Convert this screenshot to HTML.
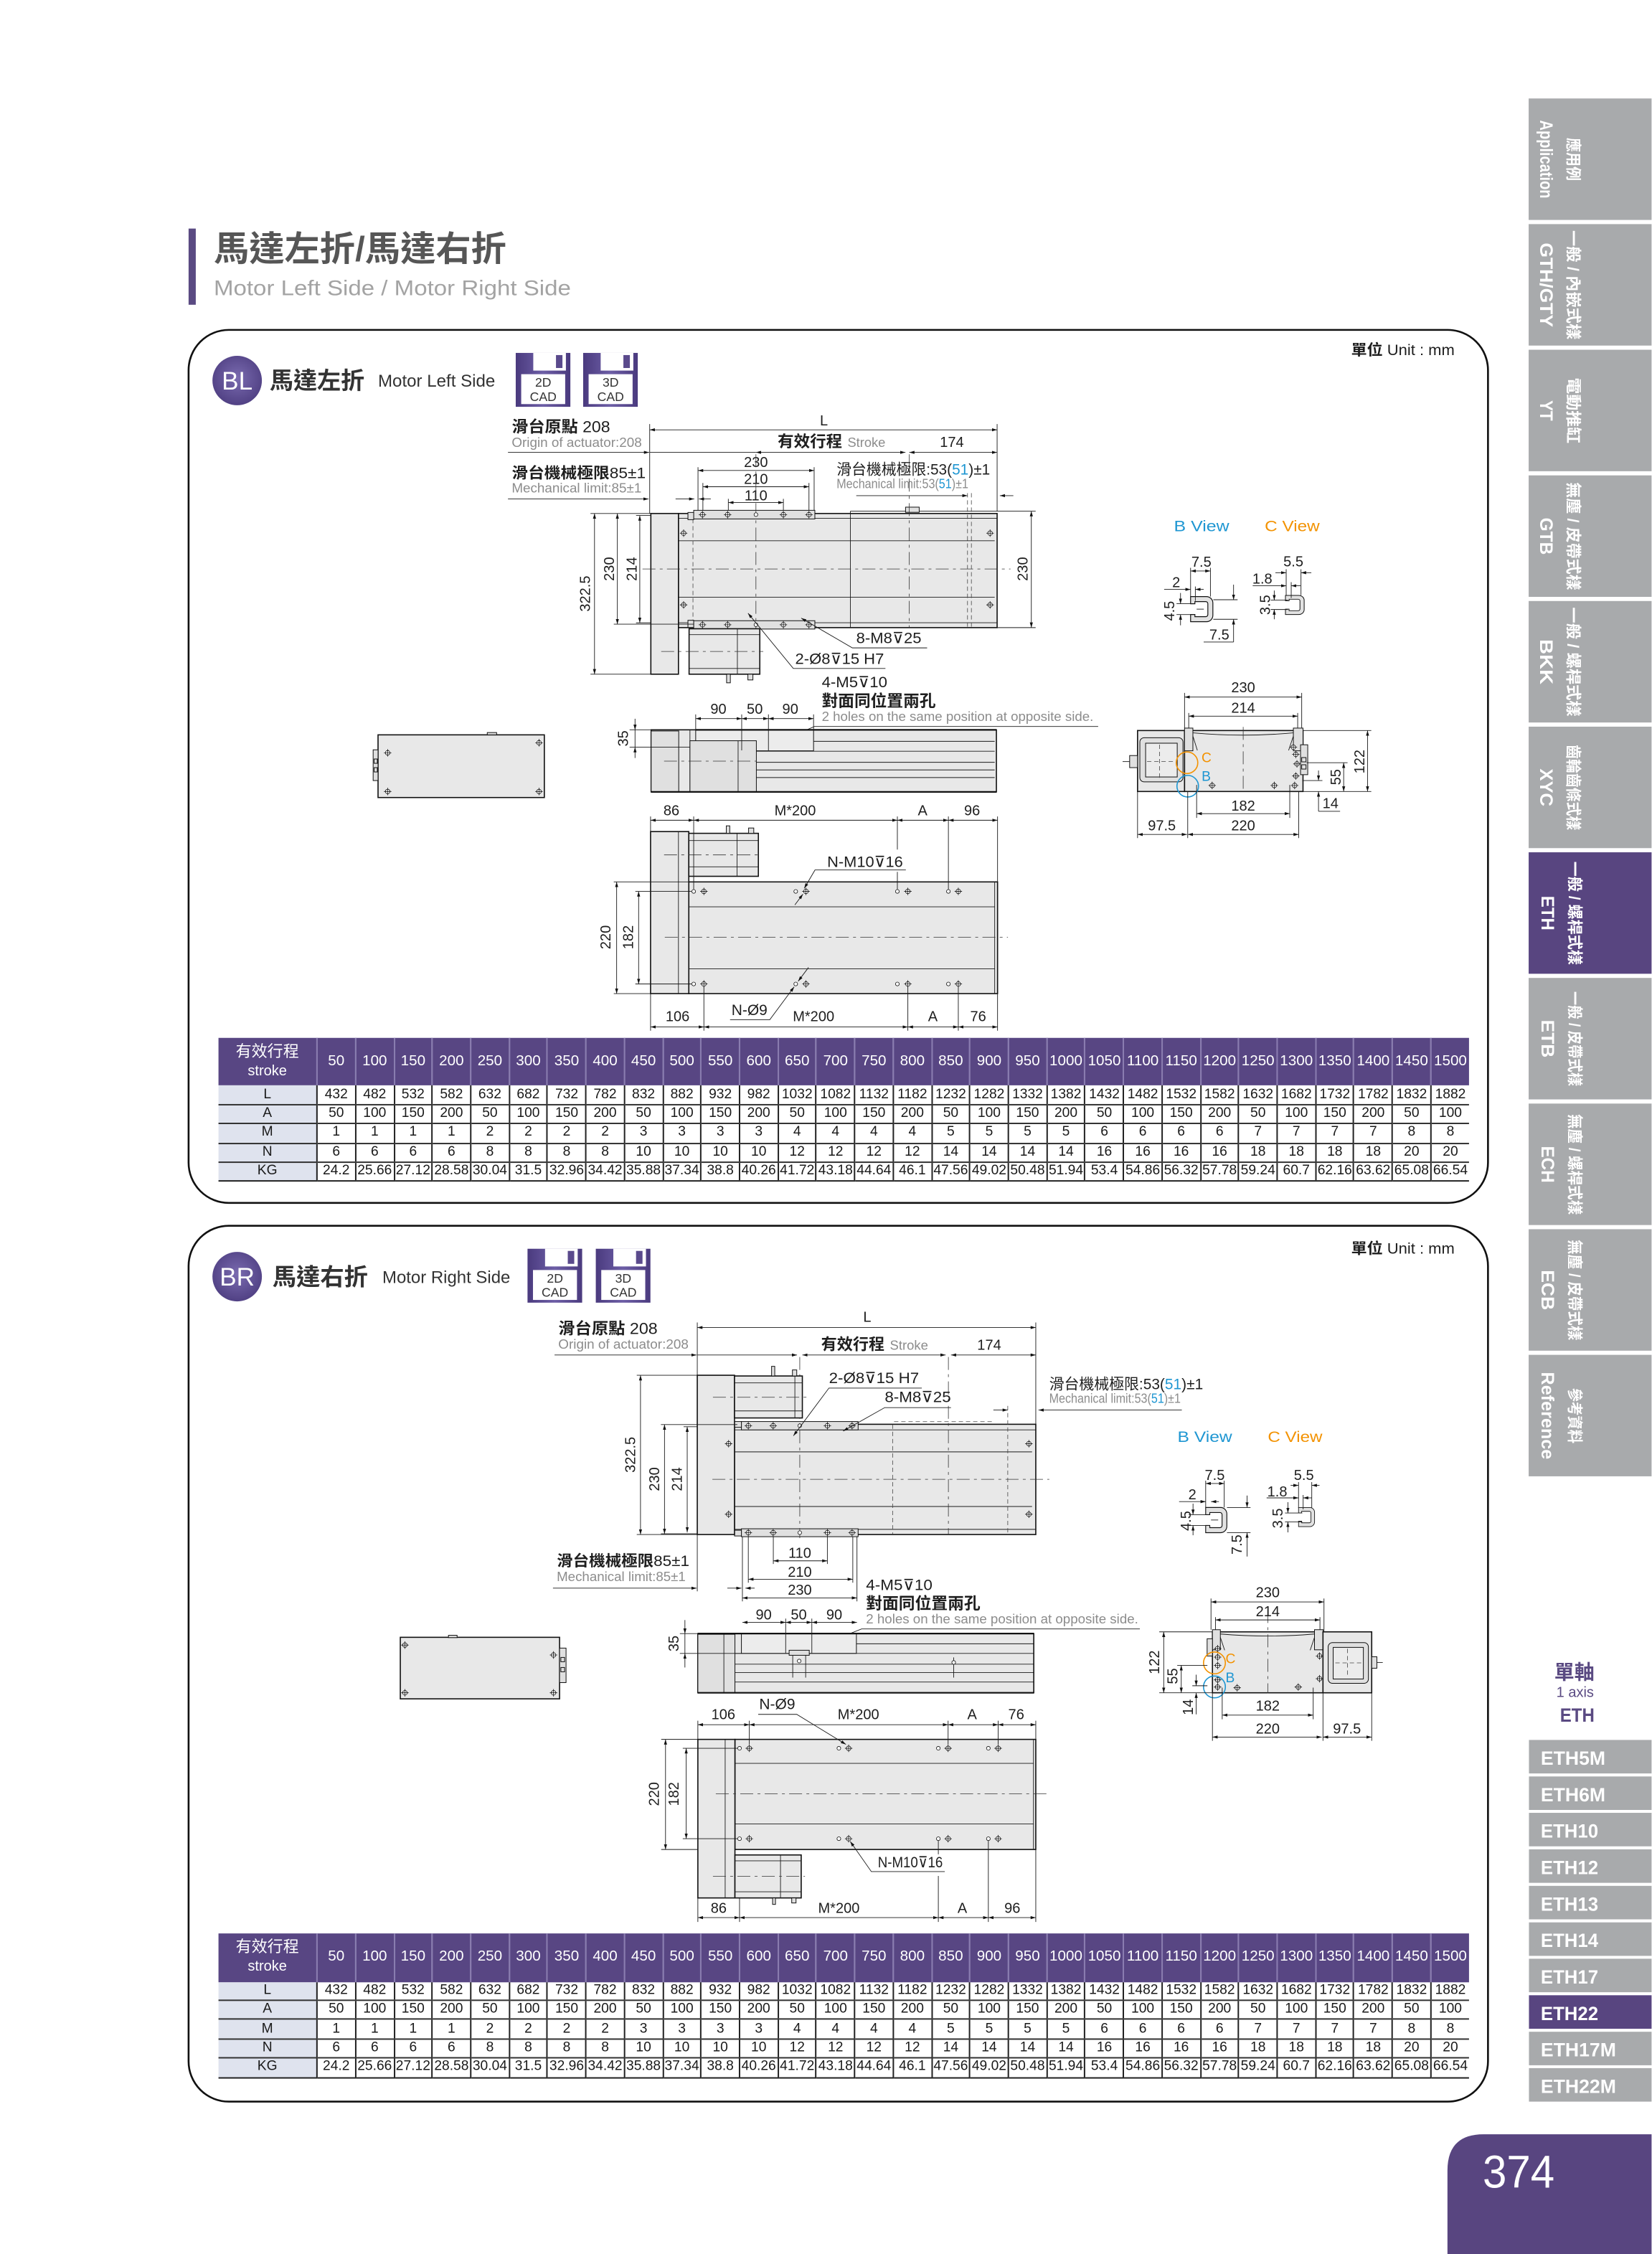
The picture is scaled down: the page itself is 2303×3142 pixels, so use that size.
<!DOCTYPE html>
<html><head><meta charset="utf-8">
<style>
html,body{margin:0;padding:0;width:2303px;height:3142px;overflow:hidden;background:#fff}
#pg{position:absolute;left:0;top:0;width:1149.3px;height:1568px;transform:scale(2.003828);transform-origin:0 0}
#pg svg{position:absolute;left:0;top:0}
.tb{position:absolute;left:151.9px;width:870.3px;border-collapse:collapse;table-layout:fixed;font-family:"Liberation Sans","Noto Sans CJK TC",sans-serif;color:#1a1a1a}
.tb td,.tb th{padding:0;text-align:center;white-space:nowrap;overflow:visible;font-weight:normal}
.tb tr.h th{height:33.6px;background:#584683;color:#fff;font-size:10.3px;border-left:.5px solid #8a7db0}
.tb tr.h th:first-child{font-size:11px;line-height:13px;border-left:none}
.tb tr.h th span{font-size:10px}
.tb tr.r td,.tb tr.r th{height:12.4px;font-size:9.6px;line-height:12px;border-bottom:.6px solid #333}
.tb tr.r td{border-left:.5px solid #222}
.tb tr.r th{background:#dfe3ee}
.tb tr.r:last-child td,.tb tr.r:last-child th{border-bottom:1.3px solid #222}
</style></head><body><div id="pg">
<svg xmlns="http://www.w3.org/2000/svg" width="1149.3" height="1568" viewBox="0 0 1149.3 1568" font-size="10">
<defs>
<marker id="ar" viewBox="0 0 10 6" refX="10" refY="3" markerUnits="userSpaceOnUse" markerWidth="3.6" markerHeight="2.2" orient="auto-start-reverse"><path d="M0,0L10,3L0,6z" fill="#111"/></marker>
<g id="h"><circle r="1.6" fill="#fff" stroke="#111" stroke-width=".4"/><path d="M-2.6,0H2.6M0,-2.6V2.6" stroke="#111" stroke-width=".4"/></g>
<g id="o"><circle r="1.3" fill="#fff" stroke="#111" stroke-width=".4"/></g>
<path id="u" d="M0,0H11A4.5,4.5 0 0 1 15.5,4.5V13A4.5,4.5 0 0 1 11,17.5H0V12.5H3V14H10.5A1.5,1.5 0 0 0 12,12.5V5A1.5,1.5 0 0 0 10.5,3.5H3V5H0Z" fill="#e2e2e2" stroke="#111" stroke-width=".6"/>
<radialGradient id="cg" cx=".5" cy=".45" r=".6"><stop offset="0" stop-color="#7a6bb0"/><stop offset="1" stop-color="#4d3d80"/></radialGradient>
<linearGradient id="ig" x1="0" x2="1"><stop offset="0" stop-color="#4a3a7e"/><stop offset=".5" stop-color="#6d5ea6"/><stop offset="1" stop-color="#4a3a7e"/></linearGradient>
</defs>
<style>
text{font-family:"Liberation Sans","Noto Sans CJK TC","DejaVu Sans",sans-serif;fill:#1e1e1e}
.m{text-anchor:middle}
.b{font-weight:bold}
.g{fill:#8c8c8c;font-size:9px}
.cb{fill:#1e96d2}
.co{fill:#f39200}
.ln{stroke:#1a1a1a;stroke-width:.45;fill:none}
.dm{stroke:#1a1a1a;stroke-width:.45;fill:none;marker-start:url(#ar);marker-end:url(#ar)}
.de{stroke:#1a1a1a;stroke-width:.45;fill:none;marker-end:url(#ar)}
.cl{stroke:#333;stroke-width:.4;fill:none;stroke-dasharray:9 3 2 3}
.hd{stroke:#444;stroke-width:.4;fill:none;stroke-dasharray:3 2}
.bd{fill:#e8e8e8;stroke:#111;stroke-width:.8}
.pt{fill:#e0e0e0;stroke:#111;stroke-width:.5}
.sb{font-size:12.5px;font-weight:bold;fill:#fff;text-anchor:middle;dominant-baseline:central}
.sz{font-size:11px;font-weight:bold;fill:#fff;text-anchor:middle;dominant-baseline:central}
.bt{font-size:13.5px;font-weight:bold;fill:#fff}
</style>

<!-- ===== Title ===== -->
<rect x="131.2" y="159" width="5" height="53" fill="#5a4a82"/>
<text x="148.7" y="181.5" style="font-size:24px;font-weight:bold;fill:#565656" textLength="203.6" lengthAdjust="spacingAndGlyphs">馬達左折/馬達右折</text>
<text x="148.7" y="205.4" style="font-size:15px;fill:#a3a3a3" textLength="248.5" lengthAdjust="spacingAndGlyphs">Motor Left Side / Motor Right Side</text>

<!-- ===== Panels ===== -->
<rect x="131.2" y="229.5" width="904" height="607.3" rx="28" fill="#fff" stroke="#111" stroke-width="1.3"/>
<rect x="131.2" y="852.7" width="904" height="609.3" rx="28" fill="#fff" stroke="#111" stroke-width="1.3"/>

<!-- ===== Sidebar tabs ===== -->
<rect x="1063.5" y="68.5" width="85.8" height="84.5" fill="#a8aaac"/>
<rect x="1063.5" y="155.9" width="85.8" height="84.5" fill="#a8aaac"/>
<rect x="1063.5" y="243.3" width="85.8" height="84.5" fill="#a8aaac"/>
<rect x="1063.5" y="330.7" width="85.8" height="84.5" fill="#a8aaac"/>
<rect x="1063.5" y="418.1" width="85.8" height="84.5" fill="#a8aaac"/>
<rect x="1063.5" y="505.5" width="85.8" height="84.5" fill="#a8aaac"/>
<rect x="1063.5" y="592.9" width="85.8" height="84.5" fill="#584580"/>
<rect x="1063.5" y="680.3" width="85.8" height="84.5" fill="#a8aaac"/>
<rect x="1063.5" y="767.7" width="85.8" height="84.5" fill="#a8aaac"/>
<rect x="1063.5" y="855.1" width="85.8" height="84.5" fill="#a8aaac"/>
<rect x="1063.5" y="942.5" width="85.8" height="84.5" fill="#a8aaac"/>
<text class="sb" transform="translate(1075.5,110.8) rotate(90)" textLength="54.4" lengthAdjust="spacingAndGlyphs">Application</text>
<text class="sz" transform="translate(1094.5,110.8) rotate(90)" textLength="30" lengthAdjust="spacingAndGlyphs">應用例</text>
<text class="sb" transform="translate(1075.5,198.2) rotate(90)" textLength="58.7" lengthAdjust="spacingAndGlyphs">GTH/GTY</text>
<text class="sz" transform="translate(1094.5,198.2) rotate(90)" textLength="76" lengthAdjust="spacingAndGlyphs">一般 / 內嵌式樣</text>
<text class="sb" transform="translate(1075.5,285.6) rotate(90)" textLength="14.3" lengthAdjust="spacingAndGlyphs">YT</text>
<text class="sz" transform="translate(1094.5,285.6) rotate(90)" textLength="45.8" lengthAdjust="spacingAndGlyphs">電動推缸</text>
<text class="sb" transform="translate(1075.5,373) rotate(90)" textLength="25.8" lengthAdjust="spacingAndGlyphs">GTB</text>
<text class="sz" transform="translate(1094.5,373) rotate(90)" textLength="75" lengthAdjust="spacingAndGlyphs">無塵 / 皮帶式樣</text>
<text class="sb" transform="translate(1075.5,460.4) rotate(90)" textLength="31.5" lengthAdjust="spacingAndGlyphs">BKK</text>
<text class="sz" transform="translate(1094.5,460.4) rotate(90)" textLength="76" lengthAdjust="spacingAndGlyphs">一般 / 螺桿式樣</text>
<text class="sb" transform="translate(1075.5,547.8) rotate(90)" textLength="26.3" lengthAdjust="spacingAndGlyphs">XYC</text>
<text class="sz" transform="translate(1094.5,547.8) rotate(90)" textLength="59.5" lengthAdjust="spacingAndGlyphs">齒輪齒條式樣</text>
<text class="sb" transform="translate(1076.5,635.2) rotate(90)" textLength="24" lengthAdjust="spacingAndGlyphs">ETH</text>
<text class="sz" transform="translate(1095.5,635.2) rotate(90)" textLength="72" lengthAdjust="spacingAndGlyphs">一般 / 螺桿式樣</text>
<text class="sb" transform="translate(1076.5,722.6) rotate(90)" textLength="26.3" lengthAdjust="spacingAndGlyphs">ETB</text>
<text class="sz" transform="translate(1095.5,722.6) rotate(90)" textLength="66" lengthAdjust="spacingAndGlyphs">一般 / 皮帶式樣</text>
<text class="sb" transform="translate(1076.5,810) rotate(90)" textLength="25.6" lengthAdjust="spacingAndGlyphs">ECH</text>
<text class="sz" transform="translate(1095.5,810) rotate(90)" textLength="70" lengthAdjust="spacingAndGlyphs">無塵 / 螺桿式樣</text>
<text class="sb" transform="translate(1076.5,897.4) rotate(90)" textLength="28" lengthAdjust="spacingAndGlyphs">ECB</text>
<text class="sz" transform="translate(1095.5,897.4) rotate(90)" textLength="70" lengthAdjust="spacingAndGlyphs">無塵 / 皮帶式樣</text>
<text class="sb" transform="translate(1076.5,984.8) rotate(90)" textLength="60.7" lengthAdjust="spacingAndGlyphs">Reference</text>
<text class="sz" transform="translate(1095.5,984.8) rotate(90)" textLength="38.6" lengthAdjust="spacingAndGlyphs">參考資料</text>

<!-- lower sidebar -->
<text class="m b" x="1095.3" y="1168" style="font-size:14px;fill:#5a4a82">單軸</text>
<text class="m" x="1095.8" y="1180.5" style="font-size:10px;fill:#5a4a82">1 axis</text>
<text class="m b" x="1097.3" y="1197.6" style="font-size:13.5px;fill:#5a4a82" textLength="24" lengthAdjust="spacingAndGlyphs">ETH</text>
<rect x="1063.7" y="1210.4" width="85.6" height="23.3" fill="#a8aaac"/>
<rect x="1063.7" y="1235.8" width="85.6" height="23.3" fill="#a8aaac"/>
<rect x="1063.7" y="1261.1" width="85.6" height="23.3" fill="#a8aaac"/>
<rect x="1063.7" y="1286.5" width="85.6" height="23.3" fill="#a8aaac"/>
<rect x="1063.7" y="1311.9" width="85.6" height="23.3" fill="#a8aaac"/>
<rect x="1063.7" y="1337.3" width="85.6" height="23.3" fill="#a8aaac"/>
<rect x="1063.7" y="1362.6" width="85.6" height="23.3" fill="#a8aaac"/>
<rect x="1063.7" y="1388" width="85.6" height="23.3" fill="#584580"/>
<rect x="1063.7" y="1413.4" width="85.6" height="23.3" fill="#a8aaac"/>
<rect x="1063.7" y="1438.7" width="85.6" height="23.3" fill="#a8aaac"/>
<text class="bt" x="1071.9" y="1227.6" textLength="45" lengthAdjust="spacingAndGlyphs">ETH5M</text>
<text class="bt" x="1071.9" y="1253" textLength="45" lengthAdjust="spacingAndGlyphs">ETH6M</text>
<text class="bt" x="1071.9" y="1278.3" textLength="40" lengthAdjust="spacingAndGlyphs">ETH10</text>
<text class="bt" x="1071.9" y="1303.7" textLength="40" lengthAdjust="spacingAndGlyphs">ETH12</text>
<text class="bt" x="1071.9" y="1329.1" textLength="40" lengthAdjust="spacingAndGlyphs">ETH13</text>
<text class="bt" x="1071.9" y="1354.5" textLength="40" lengthAdjust="spacingAndGlyphs">ETH14</text>
<text class="bt" x="1071.9" y="1379.8" textLength="40" lengthAdjust="spacingAndGlyphs">ETH17</text>
<text class="bt" x="1071.9" y="1405.2" textLength="40" lengthAdjust="spacingAndGlyphs">ETH22</text>
<text class="bt" x="1071.9" y="1430.6" textLength="52.4" lengthAdjust="spacingAndGlyphs">ETH17M</text>
<text class="bt" x="1071.9" y="1455.9" textLength="52.4" lengthAdjust="spacingAndGlyphs">ETH22M</text>
<path d="M1149.3,1484.7H1032Q1007,1484.7 1007,1510V1568H1149.3Z" fill="#584580"/>
<text x="1031.5" y="1521.8" style="font-size:32px;fill:#fff" textLength="50" lengthAdjust="spacingAndGlyphs">374</text>

<!-- ===== BL header ===== -->
<circle cx="165" cy="264.7" r="17.2" fill="url(#cg)"/>
<text class="m" x="165" y="271" style="font-size:17.5px;fill:#fff">BL</text>
<text x="187.6" y="270.5" style="font-size:16.5px;font-weight:bold;fill:#333" textLength="66" lengthAdjust="spacingAndGlyphs">馬達左折</text>
<text x="263" y="269" style="font-size:12px;fill:#333" textLength="81.5" lengthAdjust="spacingAndGlyphs">Motor Left Side</text>
<g transform="translate(358.8,245.5)">
<rect width="38" height="37.5" fill="url(#ig)"/><rect x="12.2" y="0" width="22.7" height="12.3" fill="#fff"/><rect x="28" y="1.5" width="4.5" height="9" fill="#5a4a8c"/><rect x="3.8" y="14.8" width="30.6" height="20.8" fill="#fff"/>
<text class="m" x="19.1" y="23.6" style="font-size:8.8px;fill:#333">2D</text><text class="m" x="19.1" y="33.4" style="font-size:8.8px;fill:#333">CAD</text></g>
<g transform="translate(405.7,245.5)">
<rect width="38" height="37.5" fill="url(#ig)"/><rect x="12.2" y="0" width="22.7" height="12.3" fill="#fff"/><rect x="28" y="1.5" width="4.5" height="9" fill="#5a4a8c"/><rect x="3.8" y="14.8" width="30.6" height="20.8" fill="#fff"/>
<text class="m" x="19.1" y="23.6" style="font-size:8.8px;fill:#333">3D</text><text class="m" x="19.1" y="33.4" style="font-size:8.8px;fill:#333">CAD</text></g>
<text x="940" y="247" style="font-size:10.5px" textLength="72" lengthAdjust="spacingAndGlyphs"><tspan class="b">單位</tspan> Unit : mm</text>

<!-- ===== BL top view ===== -->
<text x="356" y="300.7" font-size="11" textLength="68.5" lengthAdjust="spacingAndGlyphs"><tspan class="b">滑台原點</tspan> 208</text>
<text class="g" x="356" y="311" textLength="90.5" lengthAdjust="spacingAndGlyphs">Origin of actuator:208</text>
<text class="m" x="573.2" y="296">L</text>
<line class="dm" x1="452" y1="299" x2="693.7" y2="299"/>
<path class="ln" d="M452,295V357.2M693.7,295V355.6"/>
<line class="de" x1="353.4" y1="314.7" x2="451.6" y2="314.7"/>
<line class="ln" x1="452" y1="314.7" x2="525.9" y2="314.7"/>
<line class="dm" x1="525.9" y1="314.7" x2="629.9" y2="314.7"/>
<line class="dm" x1="632.6" y1="314.7" x2="693.7" y2="314.7"/>
<text x="541" y="311" class="b" font-size="11" textLength="45" lengthAdjust="spacingAndGlyphs">有效行程</text>
<text class="g" x="589.6" y="311" textLength="26.4" lengthAdjust="spacingAndGlyphs">Stroke</text>
<text class="m" x="662.2" y="311">174</text>
<text x="356" y="332.6" font-size="10.5" textLength="93.2" lengthAdjust="spacingAndGlyphs"><tspan class="b">滑台機械極限</tspan>85±1</text>
<text class="g" x="356" y="342.6" textLength="90.3" lengthAdjust="spacingAndGlyphs">Mechanical limit:85±1</text>
<line class="de" x1="353.4" y1="347.1" x2="451.2" y2="347.1"/>
<line class="de" x1="470" y1="347.1" x2="483" y2="347.1"/>
<line class="de" x1="494.5" y1="347.1" x2="486.2" y2="347.1"/>
<line class="dm" x1="485.6" y1="327.3" x2="566.4" y2="327.3"/>
<text class="m" x="525.9" y="325">230</text>
<line class="dm" x1="489" y1="338.6" x2="562.8" y2="338.6"/>
<text class="m" x="525.9" y="336.5">210</text>
<line class="dm" x1="506.7" y1="349.6" x2="545" y2="349.6"/>
<text class="m" x="525.9" y="348">110</text>
<path class="ln" d="M485.6,325V355M566.4,325V355M489,336V355M562.8,336V355M506.7,347V355M545,347V355"/>
<text x="582" y="330" font-size="10.5" textLength="106.8" lengthAdjust="spacingAndGlyphs">滑台機械極限:53(<tspan class="cb">51</tspan>)±1</text>
<text class="g" x="582" y="339.6" textLength="91.7" lengthAdjust="spacingAndGlyphs">Mechanical limit:53(<tspan class="cb">51</tspan>)±1</text>
<line class="de" x1="595.7" y1="344.8" x2="673.1" y2="344.8"/>
<line class="de" x1="705" y1="344.8" x2="695.6" y2="344.8"/>

<rect class="bd" x="472" y="357.2" width="221.7" height="79.4"/>
<path class="ln" d="M472,360.6H693.7M472,433.2H693.7M472,376.2H692M472,415.5H692"/>
<line class="hd" x1="482.1" y1="361" x2="482.1" y2="433"/>
<line class="ln" x1="591.6" y1="355.6" x2="591.6" y2="436.6"/>
<line class="ln" x1="591.6" y1="355.6" x2="693.7" y2="355.6"/>
<rect class="pt" x="630" y="352.8" width="9.5" height="3.6"/>
<path class="hd" d="M673.1,343V436.6M675.8,343V436.6"/>
<line class="cl" x1="632.6" y1="316" x2="632.6" y2="436.6"/>
<rect class="pt" x="482.6" y="355" width="84.3" height="6"/>
<rect class="pt" x="482.6" y="431.8" width="84.3" height="5.8"/>
<rect class="pt" x="478.6" y="356.5" width="4" height="5"/>
<rect class="pt" x="478.6" y="431.5" width="4" height="5"/>
<line class="cl" x1="525.9" y1="316" x2="525.9" y2="440"/>
<use href="#h" x="488.7" y="358"/><use href="#h" x="506.2" y="358"/><use href="#o" x="525.9" y="358"/><use href="#h" x="545" y="358"/><use href="#h" x="562.8" y="358"/>
<use href="#h" x="488.7" y="434.6"/><use href="#h" x="506.2" y="434.6"/><use href="#o" x="525.9" y="434.6"/><use href="#h" x="545" y="434.6"/><use href="#h" x="562.8" y="434.6"/>
<rect class="bd" x="452.8" y="357.2" width="19.2" height="111.8"/>
<rect class="bd" x="479.4" y="437.4" width="49.2" height="31.6"/>
<path class="ln" d="M513,437.4V469M479.4,441.5H528.6M479.4,465H528.6"/>
<rect class="pt" x="505.5" y="469" width="2.6" height="6"/>
<rect class="pt" x="520.3" y="469" width="3.5" height="4"/>
<line class="cl" x1="460" y1="453.2" x2="531" y2="453.2"/>
<line class="cl" x1="447" y1="395.8" x2="703" y2="395.8"/>
<use href="#h" x="475.6" y="370.9"/><use href="#h" x="475.6" y="420.8"/><use href="#h" x="688.8" y="370.9"/><use href="#h" x="688.8" y="420.8"/>

<line class="dm" x1="413.6" y1="357.2" x2="413.6" y2="469"/>
<text class="m" transform="translate(406.8,413) rotate(-90)" dy="3.6">322.5</text>
<line class="dm" x1="429.5" y1="357.2" x2="429.5" y2="434.2"/>
<text class="m" transform="translate(423.5,395.8) rotate(-90)" dy="3.6">230</text>
<line class="dm" x1="445.1" y1="358.6" x2="445.1" y2="433.3"/>
<text class="m" transform="translate(439.3,395.8) rotate(-90)" dy="3.6">214</text>
<path class="ln" d="M410.8,357.2H452.8M427,434.2H482.6M410.8,469H452.8M442.5,358.6H452.8M442.5,433.3H452.8"/>
<line class="dm" x1="717.5" y1="355.6" x2="717.5" y2="436.6"/>
<text class="m" transform="translate(711.2,395.8) rotate(-90)" dy="3.6">230</text>
<path class="ln" d="M693.7,355.6H720.5M693.7,436.6H720.5"/>

<text x="595.7" y="447.4" font-size="10.5" textLength="45.3" lengthAdjust="spacingAndGlyphs">8-M8⊽25</text>
<path class="de" d="M645,450.7H593L557.4,430"/>
<text x="553.2" y="461.9" font-size="10.5" textLength="61.8" lengthAdjust="spacingAndGlyphs">2-Ø8⊽15 H7</text>
<path class="de" d="M616,465H551.9L520.4,426.6"/>
<text x="571.7" y="478.2" font-size="10.5" textLength="45.6" lengthAdjust="spacingAndGlyphs">4-M5⊽10</text>
<text x="571.7" y="491.5" class="b" font-size="11.3" textLength="79.3" lengthAdjust="spacingAndGlyphs">對面同位置兩孔</text>
<text class="g" x="571.7" y="501.5" textLength="189" lengthAdjust="spacingAndGlyphs">2 holes on the same position at opposite side.</text>
<path class="de" d="M764,505.4H566.6L529.5,521.5"/>

<!-- BL side view -->
<rect class="bd" x="453" y="507.7" width="240.2" height="43.2"/>
<rect class="pt" x="453" y="508.5" width="19.2" height="42.4"/>
<line class="ln" x1="480" y1="508" x2="480" y2="551"/>
<rect class="pt" x="484" y="507.7" width="82" height="14.6" style="fill:#ececec"/>
<rect class="pt" x="480" y="515.3" width="46.2" height="35.6"/>
<line class="ln" x1="513.5" y1="515.3" x2="513.5" y2="551"/>
<path class="ln" d="M566,515.7H692M526.2,522.6H692M526.2,530.3H692M526.2,535.6H692M526.2,540.9H692"/>
<line x1="484" y1="507.7" x2="693.2" y2="507.7" stroke="#111" stroke-width="1.1"/>
<line x1="453" y1="550.9" x2="693.2" y2="550.9" stroke="#111" stroke-width="1.1"/>
<line class="cl" x1="462" y1="529.5" x2="526" y2="529.5"/>
<line class="de" x1="441.8" y1="500" x2="441.8" y2="507.7"/>
<line class="de" x1="441.8" y1="527.3" x2="441.8" y2="519.8"/>
<line class="ln" x1="441.8" y1="507.7" x2="441.8" y2="519.8"/>
<text class="m" transform="translate(433.4,513.7) rotate(-90)" dy="3.6">35</text>
<path class="ln" d="M438,507.7H453M438,519.8H480"/>
<line class="dm" x1="484" y1="499.9" x2="516" y2="499.9"/>
<line class="dm" x1="516" y1="499.9" x2="534.6" y2="499.9"/>
<line class="dm" x1="534.6" y1="499.9" x2="566" y2="499.9"/>
<text class="m" x="499.8" y="496.5">90</text><text class="m" x="525.1" y="496.5">50</text><text class="m" x="549.8" y="496.5">90</text>
<path class="ln" d="M484,497V507.7M516,497V522M534.6,497V522M566,497V507.7"/>

<!-- BL small end view -->
<rect class="bd" x="263" y="511.2" width="115.7" height="43.6"/>
<rect class="pt" x="339" y="509.6" width="6.5" height="1.6"/>
<rect class="pt" x="259.6" y="521.6" width="3.4" height="21.4"/>
<rect class="pt" x="260.3" y="528" width="2.2" height="3"/><rect class="pt" x="260.3" y="534" width="2.2" height="3"/>
<use href="#h" x="269.7" y="523.7"/><use href="#h" x="269.7" y="550.6"/><use href="#h" x="375" y="516.7"/><use href="#h" x="375" y="550.6"/>

<!-- BL bottom top view -->
<rect class="bd" x="479.2" y="613.5" width="214.8" height="77.7"/>
<path class="ln" d="M479.2,630.8H692M479.2,674H692M692,613.5V691.2"/>
<rect class="bd" x="452.6" y="578.5" width="26.6" height="112.7"/>
<line class="ln" x1="472" y1="578.5" x2="472" y2="691.2"/>
<rect class="bd" x="479.2" y="579.7" width="48.4" height="29.9"/>
<path class="ln" d="M512.8,579.7V609.6M479.2,584.7H527.6M479.2,603H527.6"/>
<rect class="pt" x="505.3" y="574.5" width="2.4" height="5.2"/>
<rect class="pt" x="520.8" y="576" width="3.6" height="3.7"/>
<line class="cl" x1="462" y1="594.7" x2="530" y2="594.7"/>
<line class="cl" x1="462.5" y1="652" x2="701.2" y2="652"/>
<use href="#o" x="482.6" y="620.1"/><use href="#o" x="553.6" y="620.1"/><use href="#o" x="624.3" y="620.1"/><use href="#o" x="659.8" y="620.1"/>
<use href="#h" x="489.7" y="620.1"/><use href="#h" x="560.7" y="620.1"/><use href="#h" x="631.6" y="620.1"/><use href="#h" x="666.7" y="620.1"/>
<use href="#o" x="482.6" y="684.5"/><use href="#o" x="553.6" y="684.5"/><use href="#o" x="624.3" y="684.5"/><use href="#o" x="659.8" y="684.5"/>
<use href="#h" x="489.7" y="684.5"/><use href="#h" x="560.7" y="684.5"/><use href="#h" x="631.6" y="684.5"/><use href="#h" x="666.7" y="684.5"/>
<line class="dm" x1="452.6" y1="570.6" x2="482.6" y2="570.6"/>
<line class="dm" x1="482.6" y1="570.6" x2="624.3" y2="570.6"/>
<line class="dm" x1="624.3" y1="570.6" x2="659.8" y2="570.6"/>
<line class="dm" x1="659.8" y1="570.6" x2="694" y2="570.6"/>
<text class="m" x="467.1" y="567.2">86</text><text class="m" x="553.2" y="567.2">M*200</text><text class="m" x="641.9" y="567.2">A</text><text class="m" x="676.3" y="567.2">96</text>
<path class="ln" d="M452.6,568V578.5M482.6,568V618.8M624.3,568V591M624.3,606.5V618.8M659.8,568V618.8M694,568V613.5"/>
<text x="575.5" y="603" font-size="10.5" textLength="52.7" lengthAdjust="spacingAndGlyphs">N-M10⊽16</text>
<path class="de" d="M630.2,605.2H567L559.5,618"/>
<line class="de" x1="553" y1="629.5" x2="558.6" y2="622"/>
<text x="508.9" y="706.1" font-size="10.5" textLength="25" lengthAdjust="spacingAndGlyphs">N-Ø9</text>
<path class="de" d="M507.9,709.4H535.5L552.5,686.5"/>
<line class="de" x1="562.5" y1="673" x2="555.3" y2="682.6"/>
<line class="dm" x1="429" y1="613.5" x2="429" y2="691.2"/>
<text class="m" transform="translate(421,652) rotate(-90)" dy="3.6">220</text>
<line class="dm" x1="444.3" y1="620.1" x2="444.3" y2="684.5"/>
<text class="m" transform="translate(436.8,652) rotate(-90)" dy="3.6">182</text>
<path class="ln" d="M427,613.5H479.2M442,620.1H481M442,684.5H481M427,691.2H452.6"/>
<line class="dm" x1="452.6" y1="714.4" x2="489.7" y2="714.4"/>
<line class="dm" x1="489.7" y1="714.4" x2="631.6" y2="714.4"/>
<line class="dm" x1="631.6" y1="714.4" x2="666.7" y2="714.4"/>
<line class="dm" x1="666.7" y1="714.4" x2="694" y2="714.4"/>
<text class="m" x="471.4" y="710.3">106</text><text class="m" x="566" y="710.3">M*200</text><text class="m" x="649" y="710.3">A</text><text class="m" x="680.5" y="710.3">76</text>
<path class="ln" d="M452.6,691.2V717M489.7,686.5V717M631.6,686.5V717M666.7,686.5V717M694,691.2V717"/>

<!-- BL B / C views -->
<text class="cb" x="816.7" y="369.6" font-size="10.5" textLength="38.5" lengthAdjust="spacingAndGlyphs">B View</text>
<text class="co" x="879.9" y="369.6" font-size="10.5" textLength="38.2" lengthAdjust="spacingAndGlyphs">C View</text>
<use href="#u" transform="translate(828.3,415)"/>
<line class="ln" x1="832.5" y1="423.75" x2="837.5" y2="423.75"/>
<text class="m" x="835.8" y="394.2">7.5</text>
<line class="dm" x1="828.3" y1="397.2" x2="842.1" y2="397.2"/>
<path class="ln" d="M828.3,395V415M842.1,395V415"/>
<text class="m" x="818.3" y="408.4">2</text>
<line class="de" x1="809.9" y1="410" x2="828.3" y2="410"/>
<line class="de" x1="837.4" y1="410" x2="831.6" y2="410"/>
<line class="ln" x1="831.6" y1="408" x2="831.6" y2="418"/>
<text class="m" transform="translate(813.3,425) rotate(-90)" dy="3.6">4.5</text>
<line class="de" x1="821.3" y1="412.5" x2="821.3" y2="420"/>
<line class="de" x1="821.3" y1="435" x2="821.3" y2="427.5"/>
<path class="ln" d="M818.5,420H828.3M818.5,427.5H828.3"/>
<text class="m" x="848.3" y="445">7.5</text>
<line class="de" x1="858.2" y1="406.7" x2="858.2" y2="417.2"/>
<line class="de" x1="858.2" y1="446.6" x2="858.2" y2="430.8"/>
<path class="ln" d="M844.1,417.2H861M844.1,430.8H861M837.4,446.6H858.2"/>
<use href="#u" transform="translate(894.3,414.2) scale(.84,.76)"/>
<text class="m" x="899.8" y="393.9">5.5</text>
<line class="de" x1="887.3" y1="398.4" x2="894.8" y2="398.4"/>
<line class="de" x1="912.3" y1="398.4" x2="905.1" y2="398.4"/>
<path class="ln" d="M894.8,396V414M905.1,396V414"/>
<text class="m" x="878.2" y="405.9">1.8</text>
<line class="de" x1="871.5" y1="407.5" x2="894.8" y2="407.5"/>
<line class="de" x1="904.8" y1="407.5" x2="898.3" y2="407.5"/>
<line class="ln" x1="898.3" y1="405" x2="898.3" y2="416"/>
<text class="m" transform="translate(879.9,420.8) rotate(-90)" dy="3.6">3.5</text>
<line class="de" x1="886.5" y1="410.8" x2="886.5" y2="417.5"/>
<line class="de" x1="886.5" y1="430.8" x2="886.5" y2="424"/>
<path class="ln" d="M884,417.5H896M884,424H896"/>

<!-- BL end view -->
<rect class="bd" x="791.4" y="508.2" width="32.7" height="42.4"/>
<rect class="pt" x="793" y="513.2" width="30" height="30.7" rx="3"/>
<rect class="pt" x="797" y="517" width="22" height="23.5" style="fill:#ececec"/>
<path class="hd" d="M798,529.8H818M806.7,518V542"/>
<rect class="pt" x="785.9" y="525.6" width="5.5" height="8.4"/>
<line class="ln" x1="781" y1="529.8" x2="786" y2="529.8"/>
<rect class="bd" x="824.1" y="508.2" width="82.4" height="42.4"/>
<rect class="pt" x="824.1" y="506.5" width="5.8" height="15.8"/>
<rect class="pt" x="899.8" y="506.5" width="6.7" height="15.8"/>
<path class="ln" d="M829.9,509.8Q864.9,513 899.8,509.8M829.9,512L833,522M899.8,512L896.5,522"/>
<line class="cl" x1="864.9" y1="505.7" x2="864.9" y2="550.6"/>
<use href="#h" x="843.3" y="546.4"/><use href="#h" x="886.5" y="546.4"/>
<use href="#h" x="899.8" y="519.8"/><use href="#h" x="901.5" y="524.8"/><use href="#h" x="902.3" y="531.4"/><use href="#h" x="901.5" y="539.8"/><use href="#h" x="900.7" y="546.4"/>
<rect class="pt" x="904.8" y="518.1" width="5" height="20.8"/>
<rect class="pt" x="905.6" y="527" width="3" height="3"/><rect class="pt" x="905.6" y="532" width="3" height="3"/>
<circle cx="825.8" cy="530.6" r="7.5" fill="none" stroke="#f39200" stroke-width=".8"/>
<text class="co" x="835.9" y="530.3" font-size="9.6">C</text>
<circle cx="826.3" cy="546.9" r="7.5" fill="none" stroke="#1e96d2" stroke-width=".8"/>
<text class="cb" x="836" y="543.1" font-size="9.6">B</text>
<text class="m" x="864.9" y="481.5">230</text>
<line class="dm" x1="824.1" y1="484.9" x2="905.6" y2="484.9"/>
<text class="m" x="864.9" y="495.7">214</text>
<line class="dm" x1="827" y1="498.2" x2="902.8" y2="498.2"/>
<path class="ln" d="M824.1,482V506.5M905.6,482V506.5M827,496V506.5M902.8,496V506.5"/>
<text class="m" x="864.9" y="563.9">182</text>
<line class="dm" x1="832.5" y1="566" x2="897.3" y2="566"/>
<text class="m" x="864.9" y="577.7">220</text>
<line class="dm" x1="826.3" y1="580.5" x2="903.5" y2="580.5"/>
<text class="m" x="808.3" y="577.7">97.5</text>
<line class="dm" x1="791.4" y1="580.5" x2="825.8" y2="580.5"/>
<path class="ln" d="M832.5,546V569M897.3,546V569M826.3,550.6V583M903.5,550.6V583M791.4,550.6V583"/>
<line class="dm" x1="951.4" y1="508.2" x2="951.4" y2="550.6"/>
<text class="m" transform="translate(945.6,529.8) rotate(-90)" dy="3.6">122</text>
<path class="ln" d="M906.5,508.2H954M906.5,550.6H954M909,530.6H937.5M906,543H920"/>
<line class="dm" x1="934.8" y1="530.6" x2="934.8" y2="550.6"/>
<text class="m" transform="translate(929,540.6) rotate(-90)" dy="3.6">55</text>
<line class="de" x1="917.3" y1="536" x2="917.3" y2="543"/>
<line class="de" x1="917.3" y1="564.4" x2="917.3" y2="550.6"/>
<text class="m" x="925.6" y="562.2">14</text>
<line class="ln" x1="917.3" y1="564.4" x2="932.3" y2="564.4"/>

<!-- ===== BR header ===== -->
<circle cx="165" cy="888.1" r="17.2" fill="url(#cg)"/>
<text class="m" x="165" y="894.4" style="font-size:17.5px;fill:#fff">BR</text>
<text x="189.5" y="894" style="font-size:16.5px;font-weight:bold;fill:#333" textLength="66.5" lengthAdjust="spacingAndGlyphs">馬達右折</text>
<text x="266" y="892.5" style="font-size:12px;fill:#333" textLength="89" lengthAdjust="spacingAndGlyphs">Motor Right Side</text>
<g transform="translate(367,868.7)">
<rect width="38" height="37.5" fill="url(#ig)"/><rect x="12.2" y="0" width="22.7" height="12.3" fill="#fff"/><rect x="28" y="1.5" width="4.5" height="9" fill="#5a4a8c"/><rect x="3.8" y="14.8" width="30.6" height="20.8" fill="#fff"/>
<text class="m" x="19.1" y="23.6" style="font-size:8.8px;fill:#333">2D</text><text class="m" x="19.1" y="33.4" style="font-size:8.8px;fill:#333">CAD</text></g>
<g transform="translate(414.5,868.7)">
<rect width="38" height="37.5" fill="url(#ig)"/><rect x="12.2" y="0" width="22.7" height="12.3" fill="#fff"/><rect x="28" y="1.5" width="4.5" height="9" fill="#5a4a8c"/><rect x="3.8" y="14.8" width="30.6" height="20.8" fill="#fff"/>
<text class="m" x="19.1" y="23.6" style="font-size:8.8px;fill:#333">3D</text><text class="m" x="19.1" y="33.4" style="font-size:8.8px;fill:#333">CAD</text></g>
<text x="940" y="872" style="font-size:10.5px" textLength="72" lengthAdjust="spacingAndGlyphs"><tspan class="b">單位</tspan> Unit : mm</text>

<!-- ===== BR top view ===== -->
<text x="388.4" y="928.1" font-size="11" textLength="69.1" lengthAdjust="spacingAndGlyphs"><tspan class="b">滑台原點</tspan> 208</text>
<text class="g" x="388.4" y="938.1" textLength="90.6" lengthAdjust="spacingAndGlyphs">Origin of actuator:208</text>
<text class="m" x="603.3" y="919.5">L</text>
<line class="dm" x1="485.1" y1="923.5" x2="720.6" y2="923.5"/>
<path class="ln" d="M485.1,920V956.7M720.6,920V990.8M485.1,1067.5V1107"/>
<line class="de" x1="385.8" y1="942.6" x2="484.6" y2="942.6"/>
<line class="de" x1="485.1" y1="942.6" x2="554.5" y2="942.6"/>
<line class="dm" x1="558.2" y1="942.6" x2="657.9" y2="942.6"/>
<line class="dm" x1="661.6" y1="942.6" x2="720.6" y2="942.6"/>
<text x="571.2" y="939" class="b" font-size="11" textLength="44.2" lengthAdjust="spacingAndGlyphs">有效行程</text>
<text class="g" x="619.1" y="939" textLength="26.6" lengthAdjust="spacingAndGlyphs">Stroke</text>
<text class="m" x="688.2" y="939">174</text>

<rect class="bd" x="511" y="990.8" width="209.6" height="76.7"/>
<path class="ln" d="M511,994.7H720.6M511,1063.9H720.6M504.7,1010H718M504.7,1048H718"/>
<path class="hd" d="M621,991V1067M701.1,978V1067M622,989H691"/>
<line class="cl" x1="659.8" y1="944" x2="659.8" y2="1067.5"/>
<rect class="pt" x="515.8" y="988.9" width="81.2" height="5.8"/>
<rect class="pt" x="515.8" y="1063.5" width="81.2" height="5.5"/>
<rect class="pt" x="511" y="988.9" width="4.8" height="4"/>
<rect class="pt" x="511" y="1064.5" width="4.8" height="4"/>
<line class="cl" x1="556.4" y1="944" x2="556.4" y2="1070"/>
<use href="#h" x="520.6" y="991.8"/><use href="#h" x="537.9" y="991.8"/><use href="#o" x="556.4" y="991.8"/><use href="#h" x="575.6" y="991.8"/><use href="#h" x="592.8" y="991.8"/>
<use href="#h" x="520.6" y="1066.2"/><use href="#h" x="537.9" y="1066.2"/><use href="#o" x="556.4" y="1066.2"/><use href="#h" x="575.6" y="1066.2"/><use href="#h" x="592.8" y="1066.2"/>
<rect class="bd" x="485.1" y="956.7" width="25.9" height="110.8"/>
<rect class="bd" x="511" y="957.2" width="47.2" height="29.2"/>
<path class="ln" d="M553,957.2V986.4M511,962H558.2M511,981.5H558.2"/>
<rect class="pt" x="536.8" y="950.5" width="2.2" height="6.7"/>
<rect class="pt" x="551.3" y="953" width="3" height="4.2"/>
<line class="cl" x1="496" y1="972" x2="561" y2="972"/>
<line class="cl" x1="495.6" y1="1029.1" x2="730" y2="1029.1"/>
<use href="#h" x="506.9" y="1004.3"/><use href="#h" x="506.9" y="1053.4"/><use href="#h" x="715.8" y="1004.3"/><use href="#h" x="715.8" y="1053.4"/>

<line class="dm" x1="445.6" y1="956.7" x2="445.6" y2="1067.5"/>
<text class="m" transform="translate(438.3,1012) rotate(-90)" dy="3.6">322.5</text>
<line class="dm" x1="462.3" y1="991" x2="462.3" y2="1067"/>
<text class="m" transform="translate(454.9,1029) rotate(-90)" dy="3.6">230</text>
<line class="dm" x1="478.1" y1="992.5" x2="478.1" y2="1066"/>
<text class="m" transform="translate(470.7,1029) rotate(-90)" dy="3.6">214</text>
<path class="ln" d="M443,956.7H485.1M459.8,991H513M475.6,992.5H485.1M443,1067.5H485.1M459.8,1067H485.1"/>

<text x="576.7" y="962.2" font-size="10.5" textLength="62.7" lengthAdjust="spacingAndGlyphs">2-Ø8⊽15 H7</text>
<path class="de" d="M641.3,965.6H576.7L552,998.8"/>
<text x="615.5" y="975.5" font-size="10.5" textLength="46.1" lengthAdjust="spacingAndGlyphs">8-M8⊽25</text>
<path class="de" d="M661.6,979.2H615.5L586.6,995.5"/>
<text x="729.9" y="966.4" font-size="10.5" textLength="107.1" lengthAdjust="spacingAndGlyphs">滑台機械極限:53(<tspan class="cb">51</tspan>)±1</text>
<text class="g" x="729.9" y="976" textLength="91.5" lengthAdjust="spacingAndGlyphs">Mechanical limit:53(<tspan class="cb">51</tspan>)±1</text>
<line class="de" x1="691.1" y1="980.9" x2="701.1" y2="980.9"/>
<line class="de" x1="822.2" y1="980.9" x2="722.5" y2="980.9"/>
<text x="387.3" y="1089.5" font-size="10.5" textLength="92.3" lengthAdjust="spacingAndGlyphs"><tspan class="b">滑台機械極限</tspan>85±1</text>
<text class="g" x="387.3" y="1100" textLength="89.7" lengthAdjust="spacingAndGlyphs">Mechanical limit:85±1</text>
<line class="de" x1="384.7" y1="1104.8" x2="484.6" y2="1104.8"/>
<line class="de" x1="506" y1="1104.8" x2="515.8" y2="1104.8"/>
<line class="de" x1="525" y1="1104.8" x2="518.6" y2="1104.8"/>
<line class="dm" x1="538" y1="1085.8" x2="575.6" y2="1085.8"/>
<text class="m" x="556.4" y="1083.7">110</text>
<line class="dm" x1="520.6" y1="1098.6" x2="593.3" y2="1098.6"/>
<text class="m" x="556.4" y="1097">210</text>
<line class="dm" x1="516.5" y1="1111.6" x2="596.2" y2="1111.6"/>
<text class="m" x="556.4" y="1109.4">230</text>
<path class="ln" d="M516.5,1069V1114M596.2,1069V1114M520.6,1069V1101M593.3,1069V1101M538,1069V1088M575.6,1069V1088"/>
<text x="602.5" y="1106.1" font-size="10.5" textLength="46.2" lengthAdjust="spacingAndGlyphs">4-M5⊽10</text>
<text x="602.5" y="1119.4" class="b" font-size="11.3" textLength="79.5" lengthAdjust="spacingAndGlyphs">對面同位置兩孔</text>
<text class="g" x="602.5" y="1129.4" textLength="189.4" lengthAdjust="spacingAndGlyphs">2 holes on the same position at opposite side.</text>
<path class="de" d="M793,1133.2H599.4L561,1148.5"/>

<!-- BR side view -->
<rect class="bd" x="485.5" y="1136.4" width="233.7" height="41.2"/>
<rect class="pt" x="485.5" y="1136.9" width="25.8" height="40.7"/>
<line class="ln" x1="503.6" y1="1137" x2="503.6" y2="1177.6"/>
<rect class="pt" x="515.8" y="1136.4" width="80" height="13.8" style="fill:#ececec"/>
<path class="ln" d="M595.8,1143.5H719M511.3,1150.2H719M511.3,1157.7H719M511.3,1163.5H719M511.3,1170.1H719"/>
<line x1="485.5" y1="1136.4" x2="719.2" y2="1136.4" stroke="#111" stroke-width="1.1"/>
<line x1="485.5" y1="1177.6" x2="719.2" y2="1177.6" stroke="#111" stroke-width="1.1"/>
<rect class="pt" x="549" y="1148" width="14" height="3.5"/>
<path class="ln" d="M551.5,1151.5V1167M560.5,1151.5V1167M663.5,1153V1167"/>
<use href="#o" x="556" y="1155.5"/><use href="#o" x="663.5" y="1156.5"/>
<line class="de" x1="476.5" y1="1127" x2="476.5" y2="1136.4"/>
<line class="de" x1="476.5" y1="1160" x2="476.5" y2="1150.2"/>
<line class="ln" x1="476.5" y1="1136.4" x2="476.5" y2="1150.2"/>
<text class="m" transform="translate(468.4,1143.3) rotate(-90)" dy="3.6">35</text>
<path class="ln" d="M473,1136.4H485.5M473,1150.2H515.8"/>
<line class="dm" x1="516.5" y1="1128.6" x2="546.6" y2="1128.6"/>
<line class="dm" x1="546.6" y1="1128.6" x2="564.8" y2="1128.6"/>
<line class="dm" x1="564.8" y1="1128.6" x2="596.2" y2="1128.6"/>
<text class="m" x="531.3" y="1126.6">90</text><text class="m" x="555.7" y="1126.6">50</text><text class="m" x="580.4" y="1126.6">90</text>
<path class="ln" d="M546.6,1126V1150M564.8,1126V1150"/>

<!-- BR small end view -->
<rect class="bd" x="278.5" y="1139" width="110.8" height="42.8"/>
<rect class="pt" x="312" y="1137.6" width="6" height="1.6"/>
<rect class="pt" x="389.3" y="1146.5" width="4.5" height="24"/>
<rect class="pt" x="390.2" y="1153" width="2.6" height="3"/><rect class="pt" x="390.2" y="1160" width="2.6" height="3"/>
<use href="#h" x="281.7" y="1144.4"/><use href="#h" x="281.7" y="1177.6"/><use href="#h" x="385.1" y="1151.3"/><use href="#h" x="385.1" y="1177.6"/>

<!-- BR B / C views -->
<text class="cb" x="819.2" y="1003" font-size="10.5" textLength="38" lengthAdjust="spacingAndGlyphs">B View</text>
<text class="co" x="882" y="1003" font-size="10.5" textLength="38" lengthAdjust="spacingAndGlyphs">C View</text>
<use href="#u" transform="translate(838.8,1048.7) scale(.95,1)"/>
<line class="ln" x1="842.5" y1="1057.4" x2="847.5" y2="1057.4"/>
<text class="m" x="845.1" y="1029.6">7.5</text>
<line class="dm" x1="838.8" y1="1032" x2="851.7" y2="1032"/>
<path class="ln" d="M838.8,1030V1048.7M851.7,1030V1048.7"/>
<text class="m" x="829.5" y="1042.9">2</text>
<line class="de" x1="820.3" y1="1044.6" x2="838.8" y2="1044.6"/>
<line class="de" x1="848" y1="1044.6" x2="842.5" y2="1044.6"/>
<text class="m" transform="translate(824.7,1058) rotate(-90)" dy="3.6">4.5</text>
<line class="de" x1="830" y1="1046" x2="830" y2="1053.7"/>
<line class="de" x1="830" y1="1068" x2="830" y2="1061.2"/>
<path class="ln" d="M827,1053.7H838.8M827,1061.2H838.8"/>
<text class="m" transform="translate(860.2,1074.5) rotate(-90)" dy="3.6">7.5</text>
<line class="de" x1="867.6" y1="1040.4" x2="867.6" y2="1048.7"/>
<line class="de" x1="867.6" y1="1082.8" x2="867.6" y2="1066.2"/>
<path class="ln" d="M853.6,1048.7H870M853.6,1066.2H870"/>
<use href="#u" transform="translate(903.4,1048.7) scale(.72,.76)"/>
<text class="m" x="907.1" y="1029.6">5.5</text>
<line class="de" x1="897.9" y1="1033.3" x2="903.4" y2="1033.3"/>
<line class="de" x1="918" y1="1033.3" x2="912.6" y2="1033.3"/>
<path class="ln" d="M903.4,1031V1049M912.6,1031V1049"/>
<text class="m" x="888.6" y="1040.9">1.8</text>
<line class="de" x1="881.2" y1="1042" x2="903.4" y2="1042"/>
<line class="de" x1="912.6" y1="1042" x2="906.6" y2="1042"/>
<line class="ln" x1="906.6" y1="1040" x2="906.6" y2="1050"/>
<text class="m" transform="translate(888.6,1056.2) rotate(-90)" dy="3.6">3.5</text>
<line class="de" x1="896" y1="1045" x2="896" y2="1052.5"/>
<line class="de" x1="896" y1="1066" x2="896" y2="1058.7"/>
<path class="ln" d="M894,1052.5H906M894,1058.7H906"/>

<!-- BR end view -->
<rect class="bd" x="843.5" y="1135.2" width="76.9" height="42.4"/>
<rect class="pt" x="843.5" y="1133.7" width="5.5" height="14"/>
<rect class="pt" x="914.5" y="1133.7" width="6" height="14"/>
<path class="ln" d="M849,1136.7Q882,1139.5 914.5,1136.7M849,1139L852,1148M914.5,1139L911.5,1148"/>
<rect class="bd" x="920.4" y="1135.2" width="33.9" height="42.4"/>
<rect class="pt" x="924" y="1142.7" width="28" height="28.3" rx="3"/>
<rect class="pt" x="927.5" y="1146" width="21" height="22" style="fill:#ececec"/>
<path class="hd" d="M929,1156.8H947M937.5,1147V1167"/>
<rect class="pt" x="954.3" y="1152.5" width="3.6" height="8"/>
<line class="ln" x1="958" y1="1156.5" x2="962" y2="1156.5"/>
<rect class="pt" x="839.8" y="1140" width="3.7" height="12"/>
<line class="cl" x1="882" y1="1120" x2="882" y2="1178"/>
<use href="#h" x="847.1" y="1146.9"/><use href="#h" x="847.1" y="1152.8"/><use href="#h" x="847.1" y="1158.6"/><use href="#h" x="847.1" y="1168.6"/><use href="#h" x="847.1" y="1173.6"/>
<use href="#h" x="860.7" y="1174.1"/><use href="#h" x="903.2" y="1173.6"/><use href="#h" x="918" y="1152"/><use href="#h" x="918" y="1167.8"/>
<circle cx="844.9" cy="1156.8" r="7.6" fill="none" stroke="#f39200" stroke-width=".8"/>
<text class="co" x="852.6" y="1157" font-size="9.6">C</text>
<circle cx="844.9" cy="1173.5" r="7.6" fill="none" stroke="#1e96d2" stroke-width=".8"/>
<text class="cb" x="852.6" y="1170.2" font-size="9.6">B</text>
<text class="m" x="882" y="1111.1">230</text>
<line class="dm" x1="842.5" y1="1114.4" x2="921.1" y2="1114.4"/>
<text class="m" x="882" y="1124.4">214</text>
<line class="dm" x1="845.6" y1="1126.9" x2="918.3" y2="1126.9"/>
<path class="ln" d="M842.5,1112V1133.7M921.1,1112V1135.2M845.6,1125V1133.7M918.3,1125V1133.7"/>
<text class="m" x="882" y="1190">182</text>
<line class="dm" x1="850.3" y1="1193.1" x2="913.6" y2="1193.1"/>
<text class="m" x="882" y="1205.9">220</text>
<line class="dm" x1="843.5" y1="1208.4" x2="919.5" y2="1208.4"/>
<text class="m" x="937.1" y="1205.9">97.5</text>
<line class="dm" x1="920.4" y1="1208.4" x2="954.3" y2="1208.4"/>
<path class="ln" d="M850.3,1174V1196M913.6,1174V1196M843.5,1177.6V1211M920.4,1177.6V1211M954.3,1177.6V1211"/>
<line class="dm" x1="809.6" y1="1135.2" x2="809.6" y2="1177.6"/>
<text class="m" transform="translate(802.8,1156.4) rotate(-90)" dy="3.6">122</text>
<path class="ln" d="M806.5,1135.2H843.5M806.5,1177.6H843.5M819,1158.5H840M829.5,1172.7H840"/>
<line class="dm" x1="821.8" y1="1158.5" x2="821.8" y2="1177.6"/>
<text class="m" transform="translate(815.5,1166) rotate(-90)" dy="3.6">55</text>
<line class="de" x1="832.2" y1="1165" x2="832.2" y2="1172.7"/>
<line class="de" x1="832.2" y1="1192.6" x2="832.2" y2="1177.6"/>
<text class="m" transform="translate(826.4,1187.6) rotate(-90)" dy="3.6">14</text>

<!-- BR bottom top view -->
<rect class="bd" x="511.3" y="1210" width="209.3" height="76.6"/>
<path class="ln" d="M511.3,1226.7H719M511.3,1268.8H719M719,1210V1286.6"/>
<rect class="bd" x="485.5" y="1210" width="25.8" height="110.3"/>
<line class="ln" x1="504.5" y1="1210" x2="504.5" y2="1320.3"/>
<rect class="bd" x="511.3" y="1290.4" width="46.1" height="29.9"/>
<path class="ln" d="M543,1290.4V1320.3M511.3,1294.5H557.4M511.3,1316H557.4"/>
<rect class="pt" x="537.5" y="1320.3" width="2" height="4.5"/>
<rect class="pt" x="550.8" y="1320.3" width="3" height="3.5"/>
<line class="cl" x1="496" y1="1305.3" x2="560" y2="1305.3"/>
<line class="cl" x1="498" y1="1247.8" x2="729" y2="1247.8"/>
<use href="#o" x="514.5" y="1216.2"/><use href="#o" x="583.6" y="1216.2"/><use href="#o" x="652.8" y="1216.2"/><use href="#o" x="687.6" y="1216.2"/>
<use href="#h" x="521.3" y="1216.2"/><use href="#h" x="590.4" y="1216.2"/><use href="#h" x="659.6" y="1216.2"/><use href="#h" x="694.4" y="1216.2"/>
<use href="#o" x="514.5" y="1279.1"/><use href="#o" x="583.6" y="1279.1"/><use href="#o" x="652.8" y="1279.1"/><use href="#o" x="687.6" y="1279.1"/>
<use href="#h" x="521.3" y="1279.1"/><use href="#h" x="590.4" y="1279.1"/><use href="#h" x="659.6" y="1279.1"/><use href="#h" x="694.4" y="1279.1"/>
<line class="dm" x1="485.5" y1="1199.8" x2="521.3" y2="1199.8"/>
<line class="dm" x1="521.3" y1="1199.8" x2="659.6" y2="1199.8"/>
<line class="dm" x1="659.6" y1="1199.8" x2="694.4" y2="1199.8"/>
<line class="dm" x1="694.4" y1="1199.8" x2="720.6" y2="1199.8"/>
<text class="m" x="503.2" y="1195.9">106</text><text class="m" x="597.2" y="1195.9">M*200</text><text class="m" x="676.3" y="1195.9">A</text><text class="m" x="707" y="1195.9">76</text>
<path class="ln" d="M485.5,1197V1210M521.3,1197V1213.5M659.6,1197V1213.5M694.4,1197V1213.5M720.6,1197V1210"/>
<text class="m" x="540.7" y="1189" font-size="10.5" textLength="25" lengthAdjust="spacingAndGlyphs">N-Ø9</text>
<path class="de" d="M527.5,1192.6H554.3L588.5,1213.5"/>
<line class="dm" x1="463" y1="1210" x2="463" y2="1286.6"/>
<text class="m" transform="translate(454.8,1248) rotate(-90)" dy="3.6">220</text>
<line class="dm" x1="477.4" y1="1216.2" x2="477.4" y2="1279.1"/>
<text class="m" transform="translate(468.4,1248) rotate(-90)" dy="3.6">182</text>
<path class="ln" d="M460,1210H485.5M475,1216.2H513M475,1279.1H513M460,1286.6H485.5"/>
<text x="610.7" y="1299" font-size="10.5" textLength="45.2" lengthAdjust="spacingAndGlyphs">N-M10⊽16</text>
<path class="de" d="M657.3,1302H606.2L591.5,1281"/>
<line class="dm" x1="485.5" y1="1334" x2="514.5" y2="1334"/>
<line class="dm" x1="514.5" y1="1334" x2="652.8" y2="1334"/>
<line class="dm" x1="652.8" y1="1334" x2="687.6" y2="1334"/>
<line class="dm" x1="687.6" y1="1334" x2="720.6" y2="1334"/>
<text class="m" x="500" y="1330.7">86</text><text class="m" x="583.6" y="1330.7">M*200</text><text class="m" x="669.5" y="1330.7">A</text><text class="m" x="704.3" y="1330.7">96</text>
<path class="ln" d="M485.5,1320.3V1337M514.5,1320.3V1337M652.8,1280.5V1290M652.8,1305V1337M687.6,1280.5V1337M720.6,1286.6V1337"/>
</svg>

<table class="tb" style="top:721.9px">
<colgroup><col style="width:68.7px"><col span="30" style="width:26.72px"></colgroup>
<tr class="h"><th>有效行程<br><span>stroke</span></th><th>50</th><th>100</th><th>150</th><th>200</th><th>250</th><th>300</th><th>350</th><th>400</th><th>450</th><th>500</th><th>550</th><th>600</th><th>650</th><th>700</th><th>750</th><th>800</th><th>850</th><th>900</th><th>950</th><th>1000</th><th>1050</th><th>1100</th><th>1150</th><th>1200</th><th>1250</th><th>1300</th><th>1350</th><th>1400</th><th>1450</th><th>1500</th></tr>
<tr class="r"><th>L</th><td>432</td><td>482</td><td>532</td><td>582</td><td>632</td><td>682</td><td>732</td><td>782</td><td>832</td><td>882</td><td>932</td><td>982</td><td>1032</td><td>1082</td><td>1132</td><td>1182</td><td>1232</td><td>1282</td><td>1332</td><td>1382</td><td>1432</td><td>1482</td><td>1532</td><td>1582</td><td>1632</td><td>1682</td><td>1732</td><td>1782</td><td>1832</td><td>1882</td></tr>
<tr class="r"><th>A</th><td>50</td><td>100</td><td>150</td><td>200</td><td>50</td><td>100</td><td>150</td><td>200</td><td>50</td><td>100</td><td>150</td><td>200</td><td>50</td><td>100</td><td>150</td><td>200</td><td>50</td><td>100</td><td>150</td><td>200</td><td>50</td><td>100</td><td>150</td><td>200</td><td>50</td><td>100</td><td>150</td><td>200</td><td>50</td><td>100</td></tr>
<tr class="r"><th>M</th><td>1</td><td>1</td><td>1</td><td>1</td><td>2</td><td>2</td><td>2</td><td>2</td><td>3</td><td>3</td><td>3</td><td>3</td><td>4</td><td>4</td><td>4</td><td>4</td><td>5</td><td>5</td><td>5</td><td>5</td><td>6</td><td>6</td><td>6</td><td>6</td><td>7</td><td>7</td><td>7</td><td>7</td><td>8</td><td>8</td></tr>
<tr class="r"><th>N</th><td>6</td><td>6</td><td>6</td><td>6</td><td>8</td><td>8</td><td>8</td><td>8</td><td>10</td><td>10</td><td>10</td><td>10</td><td>12</td><td>12</td><td>12</td><td>12</td><td>14</td><td>14</td><td>14</td><td>14</td><td>16</td><td>16</td><td>16</td><td>16</td><td>18</td><td>18</td><td>18</td><td>18</td><td>20</td><td>20</td></tr>
<tr class="r"><th>KG</th><td>24.2</td><td>25.66</td><td>27.12</td><td>28.58</td><td>30.04</td><td>31.5</td><td>32.96</td><td>34.42</td><td>35.88</td><td>37.34</td><td>38.8</td><td>40.26</td><td>41.72</td><td>43.18</td><td>44.64</td><td>46.1</td><td>47.56</td><td>49.02</td><td>50.48</td><td>51.94</td><td>53.4</td><td>54.86</td><td>56.32</td><td>57.78</td><td>59.24</td><td>60.7</td><td>62.16</td><td>63.62</td><td>65.08</td><td>66.54</td></tr>
</table>

<table class="tb" style="top:1345.1px">
<colgroup><col style="width:68.7px"><col span="30" style="width:26.72px"></colgroup>
<tr class="h"><th>有效行程<br><span>stroke</span></th><th>50</th><th>100</th><th>150</th><th>200</th><th>250</th><th>300</th><th>350</th><th>400</th><th>450</th><th>500</th><th>550</th><th>600</th><th>650</th><th>700</th><th>750</th><th>800</th><th>850</th><th>900</th><th>950</th><th>1000</th><th>1050</th><th>1100</th><th>1150</th><th>1200</th><th>1250</th><th>1300</th><th>1350</th><th>1400</th><th>1450</th><th>1500</th></tr>
<tr class="r"><th>L</th><td>432</td><td>482</td><td>532</td><td>582</td><td>632</td><td>682</td><td>732</td><td>782</td><td>832</td><td>882</td><td>932</td><td>982</td><td>1032</td><td>1082</td><td>1132</td><td>1182</td><td>1232</td><td>1282</td><td>1332</td><td>1382</td><td>1432</td><td>1482</td><td>1532</td><td>1582</td><td>1632</td><td>1682</td><td>1732</td><td>1782</td><td>1832</td><td>1882</td></tr>
<tr class="r"><th>A</th><td>50</td><td>100</td><td>150</td><td>200</td><td>50</td><td>100</td><td>150</td><td>200</td><td>50</td><td>100</td><td>150</td><td>200</td><td>50</td><td>100</td><td>150</td><td>200</td><td>50</td><td>100</td><td>150</td><td>200</td><td>50</td><td>100</td><td>150</td><td>200</td><td>50</td><td>100</td><td>150</td><td>200</td><td>50</td><td>100</td></tr>
<tr class="r"><th>M</th><td>1</td><td>1</td><td>1</td><td>1</td><td>2</td><td>2</td><td>2</td><td>2</td><td>3</td><td>3</td><td>3</td><td>3</td><td>4</td><td>4</td><td>4</td><td>4</td><td>5</td><td>5</td><td>5</td><td>5</td><td>6</td><td>6</td><td>6</td><td>6</td><td>7</td><td>7</td><td>7</td><td>7</td><td>8</td><td>8</td></tr>
<tr class="r"><th>N</th><td>6</td><td>6</td><td>6</td><td>6</td><td>8</td><td>8</td><td>8</td><td>8</td><td>10</td><td>10</td><td>10</td><td>10</td><td>12</td><td>12</td><td>12</td><td>12</td><td>14</td><td>14</td><td>14</td><td>14</td><td>16</td><td>16</td><td>16</td><td>16</td><td>18</td><td>18</td><td>18</td><td>18</td><td>20</td><td>20</td></tr>
<tr class="r"><th>KG</th><td>24.2</td><td>25.66</td><td>27.12</td><td>28.58</td><td>30.04</td><td>31.5</td><td>32.96</td><td>34.42</td><td>35.88</td><td>37.34</td><td>38.8</td><td>40.26</td><td>41.72</td><td>43.18</td><td>44.64</td><td>46.1</td><td>47.56</td><td>49.02</td><td>50.48</td><td>51.94</td><td>53.4</td><td>54.86</td><td>56.32</td><td>57.78</td><td>59.24</td><td>60.7</td><td>62.16</td><td>63.62</td><td>65.08</td><td>66.54</td></tr>
</table>
</div></body></html>
